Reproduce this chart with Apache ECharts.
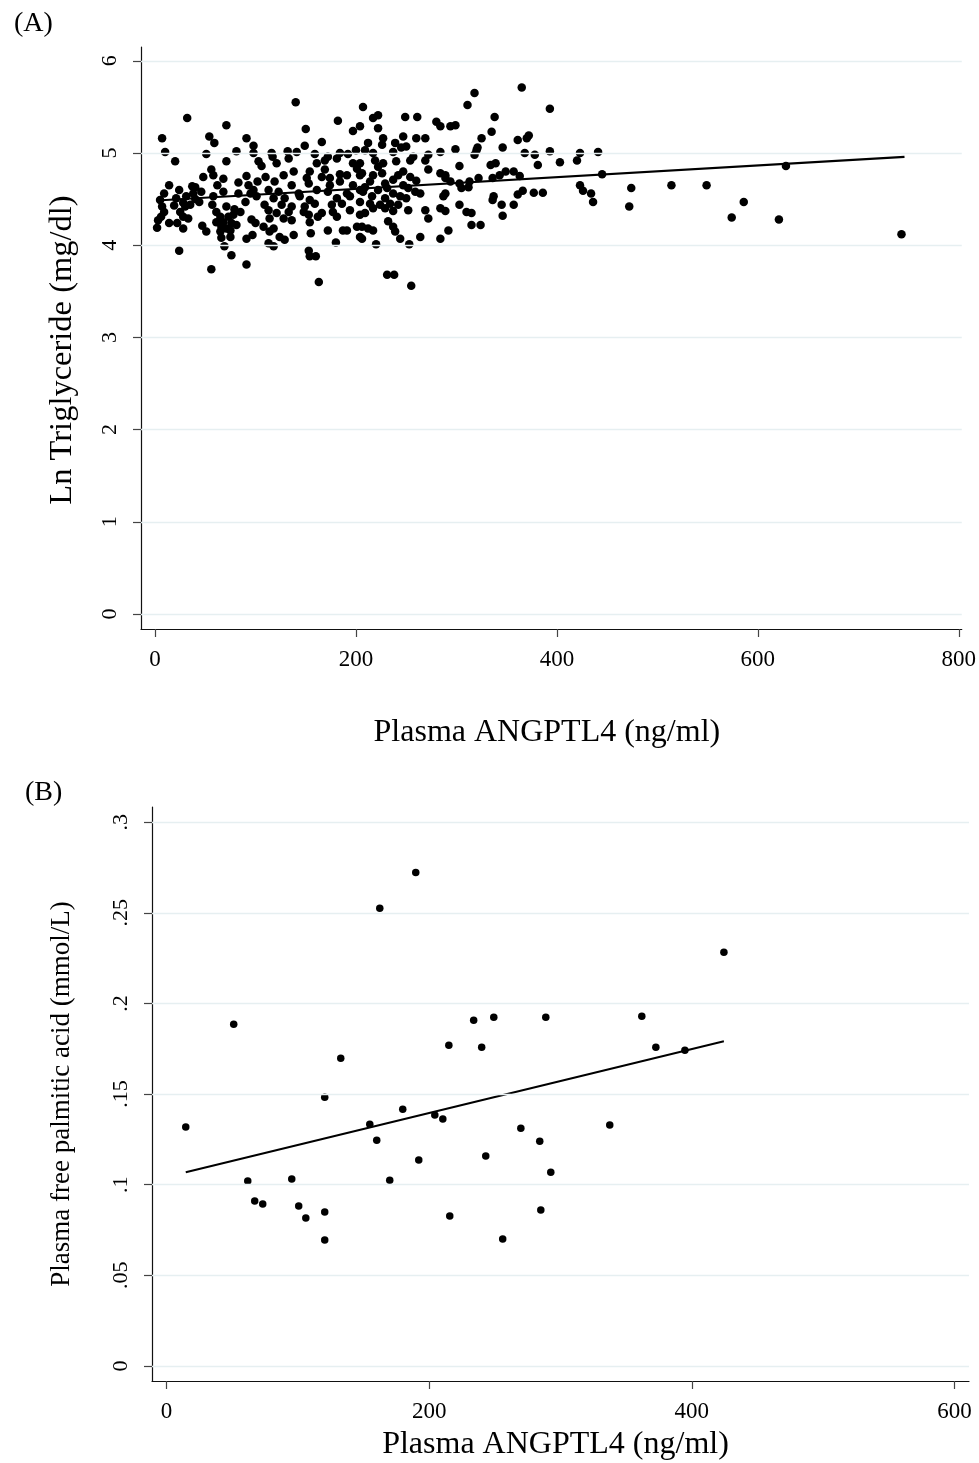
<!DOCTYPE html>
<html>
<head>
<meta charset="utf-8">
<script src="https://cdn.jsdelivr.net/npm/echarts@6/dist/echarts.min.js"></script>
<style>
  html, body { margin: 0; padding: 0; background: #fff; }
  #chart { width: 979px; height: 1463px; }
</style>
</head>
<body>
<div id="chart"></div>
<script>
// Panel A: plasma ANGPTL4 (ng/ml) vs ln triglyceride (mg/dl)
const pointsA = [
  [32,5.38],[71,5.30],[7,5.16],[54,5.18],[59,5.11],[91,5.16],[10,5.01],[51,4.99],[81,5.02],[20,4.91],
  [71,4.91],[56,4.82],[58,4.76],[48,4.74],[68,4.72],[91,4.75],[14,4.65],[83,4.68],[93,4.65],[37,4.64],
  [40,4.63],[62,4.65],[24,4.60],[9,4.56],[46,4.58],[38,4.56],[68,4.58],[83,4.56],[95,4.56],[21,4.51],
  [31,4.53],[40,4.50],[58,4.53],[5,4.49],[28,4.46],[35,4.44],[44,4.47],[90,4.47],[7,4.42],[19,4.43],
  [30,4.42],[57,4.44],[71,4.42],[79,4.39],[85,4.36],[9,4.36],[25,4.36],[61,4.36],[6,4.31],[28,4.31],
  [33,4.29],[65,4.31],[73,4.31],[78,4.33],[96,4.28],[3,4.27],[14,4.24],[22,4.24],[61,4.25],[68,4.25],
  [76,4.24],[81,4.22],[47,4.21],[66,4.20],[71,4.18],[2,4.19],[28,4.18],[51,4.15],[75,4.16],[65,4.15],
  [97,4.11],[66,4.08],[75,4.09],[91,4.07],[69,3.99],[24,3.94],[76,3.89],[56,3.74],[91,3.79],
  [140,5.55],[207,5.50],[150,5.26],[182,5.35],[197,5.24],[204,5.29],[166,5.12],[98,5.08],[98,5.00],[116,5.00],
  [132,5.02],[141,5.01],[149,5.08],[159,4.99],[172,4.96],[184,5.00],[192,4.99],[200,5.03],[209,5.03],[103,4.91],
  [117,4.96],[121,4.89],[133,4.94],[161,4.89],[169,4.92],[181,4.94],[197,4.89],[106,4.86],[138,4.80],[154,4.80],
  [169,4.82],[184,4.77],[201,4.83],[110,4.74],[128,4.76],[151,4.73],[166,4.74],[174,4.73],[191,4.76],[204,4.76],
  [102,4.69],[119,4.69],[136,4.65],[153,4.67],[174,4.65],[184,4.69],[197,4.65],[98,4.60],[113,4.60],[123,4.58],
  [143,4.56],[161,4.60],[172,4.58],[191,4.56],[204,4.60],[101,4.53],[118,4.51],[129,4.51],[144,4.53],[154,4.49],
  [181,4.51],[194,4.53],[109,4.44],[126,4.44],[136,4.42],[149,4.42],[159,4.45],[176,4.44],[186,4.45],[204,4.47],
  [113,4.38],[121,4.35],[133,4.36],[148,4.36],[166,4.35],[177,4.36],[194,4.38],[114,4.29],[128,4.29],[153,4.33],
  [162,4.31],[181,4.31],[204,4.33],[100,4.24],[108,4.20],[118,4.18],[136,4.27],[154,4.25],[172,4.16],[187,4.16],
  [191,4.16],[201,4.20],[204,4.09],[114,4.15],[124,4.09],[129,4.06],[138,4.11],[155,4.13],[113,4.02],[118,3.99],
  [180,4.03],[153,3.94],[154,3.88],[160,3.88],[163,3.60],
  [318,5.65],[311,5.52],[217,5.38],[222,5.41],[249,5.39],[261,5.39],[280,5.34],[284,5.29],[294,5.29],[299,5.30],
  [222,5.27],[227,5.16],[247,5.18],[260,5.16],[269,5.16],[212,5.11],[226,5.09],[239,5.11],[245,5.06],[250,5.07],
  [217,5.00],[237,5.01],[257,4.96],[272,4.98],[284,5.01],[299,5.04],[320,5.03],[318,4.98],[219,4.92],[227,4.89],
  [240,4.91],[254,4.92],[269,4.92],[204,4.89],[222,4.85],[303,4.86],[247,4.80],[272,4.82],[284,4.78],[289,4.76],
  [206,4.78],[217,4.76],[226,4.78],[242,4.76],[254,4.74],[260,4.70],[289,4.73],[214,4.69],[229,4.67],[237,4.71],
  [247,4.65],[294,4.69],[303,4.67],[313,4.69],[209,4.63],[222,4.60],[231,4.62],[252,4.62],[305,4.62],[312,4.63],
  [207,4.58],[237,4.56],[259,4.58],[264,4.56],[289,4.56],[287,4.53],[216,4.53],[229,4.51],[244,4.53],[250,4.51],
  [214,4.45],[224,4.44],[234,4.45],[242,4.44],[303,4.44],[217,4.40],[229,4.40],[237,4.37],[252,4.38],[269,4.38],
  [284,4.40],[289,4.37],[310,4.36],[315,4.35],[209,4.35],[272,4.29],[232,4.26],[315,4.22],[206,4.20],[212,4.18],
  [217,4.16],[237,4.20],[239,4.15],[292,4.16],[206,4.07],[244,4.07],[264,4.09],[284,4.07],[220,4.01],[253,4.01],
  [231,3.68],[238,3.68],[255,3.56],
  [365,5.71],[393,5.48],[338,5.39],[335,5.23],[325,5.16],[361,5.14],[370,5.16],[372,5.19],[321,5.06],[346,5.06],
  [368,5.00],[378,4.98],[393,5.02],[423,5.00],[441,5.01],[420,4.92],[381,4.87],[403,4.90],[334,4.87],[339,4.89],
  [349,4.80],[357,4.80],[343,4.76],[363,4.75],[322,4.73],[336,4.73],[445,4.77],[423,4.65],[426,4.59],[434,4.56],
  [366,4.59],[361,4.55],[377,4.57],[386,4.57],[337,4.53],[336,4.49],[436,4.47],[345,4.44],[357,4.44],[346,4.32],
  [324,4.22],
  [474,4.62],[472,4.42],[514,4.65],[549,4.65],[586,4.47],[574,4.30],[621,4.28],[628,4.86],[743,4.12]
];
const fitA = [[2, 4.485], [746, 4.959]];
const xTicksA = [0, 200, 400, 600, 800];
const yTicksA = [0, 1, 2, 3, 4, 5, 6];

// Panel B: plasma ANGPTL4 (ng/ml) vs plasma free palmitic acid (mmol/L)
const pointsB = [
  [14.7,0.1318],[51.2,0.1885],[61.9,0.1020],[67.2,0.0910],[73.3,0.0893],[95.4,0.1031],[100.7,0.0882],
  [106.1,0.0816],[120.5,0.1483],[120.5,0.0849],[120.5,0.0695],[132.7,0.1698],[154.8,0.1334],[160.1,0.1246],
  [162.4,0.2525],[170.0,0.1025],[179.9,0.1417],[189.8,0.2723],[192.1,0.1136],[204.3,0.1384],[210.4,0.1362],
  [215.0,0.1770],[215.7,0.0827],[233.9,0.1907],[240.0,0.1759],[243.1,0.1158],[249.2,0.1924],[256.0,0.0700],
  [269.8,0.1312],[284.2,0.1240],[285.0,0.0860],[288.8,0.1924],[292.6,0.1069],[337.5,0.1329],[361.9,0.1929],
  [372.6,0.1759],[394.7,0.1742],[424.4,0.2282]
];
const fitB = [[14.7, 0.1069], [424.4, 0.1792]];
const xTicksB = [0, 200, 400, 600];
const yTicksB = [0, 0.05, 0.1, 0.15, 0.2, 0.25, 0.3];
const yLabelsB = ['0', '.05', '.1', '.15', '.2', '.25', '.3'];

const FONT = '"Liberation Serif", "DejaVu Serif", serif';
const INK = '#000';

function yLabelB(v) {
  let best = 0;
  yTicksB.forEach((t, i) => { if (Math.abs(t - v) < Math.abs(yTicksB[best] - v)) best = i; });
  return yLabelsB[best];
}

function xAxis(gridIndex, min, max, ticks, name, nameGap, nameSize, namePad) {
  return {
    type: 'value', gridIndex, min, max,
    name, nameLocation: 'middle', nameGap,
    nameTextStyle: { fontFamily: FONT, fontSize: nameSize, color: INK, padding: namePad },
    axisLine: { show: true, onZero: false, lineStyle: { color: '#111', width: 1.2 } },
    axisTick: { show: true, customValues: ticks, length: 8, lineStyle: { color: '#444', width: 1.2 } },
    axisLabel: { customValues: ticks, margin: 19, fontFamily: FONT, fontSize: 23, color: INK },
    splitLine: { show: false }
  };
}

function yAxis(gridIndex, min, max, ticks, name, nameGap, nameSize, namePad, fmt) {
  return {
    type: 'value', gridIndex, min, max,
    name, nameLocation: 'middle', nameGap,
    nameTextStyle: { fontFamily: FONT, fontSize: nameSize, color: INK, padding: namePad },
    axisLine: { show: true, onZero: false, lineStyle: { color: '#111', width: 1.2 } },
    axisTick: { show: true, customValues: ticks, length: 8, lineStyle: { color: '#444', width: 1.2 } },
    axisLabel: { customValues: ticks, rotate: 90, margin: 20, fontFamily: FONT, fontSize: 22, color: INK,
                 formatter: fmt || (v => String(v)) },
    splitLine: { show: false }
  };
}

function gridLines(idx, ticks) {
  return {
    type: 'scatter', xAxisIndex: idx, yAxisIndex: idx, data: [], z: 1, silent: true,
    markLine: {
      silent: true, symbol: ['none', 'none'], label: { show: false },
      lineStyle: { color: '#e6eff1', width: 1.3, type: 'solid' },
      data: ticks.map(v => ({ yAxis: v }))
    }
  };
}

const chart = echarts.init(document.getElementById('chart'), null, { renderer: 'canvas' });
chart.setOption({
  backgroundColor: '#fff',
  animation: false,
  title: [
    { text: '(A)', left: 9, top: 5, textStyle: { fontFamily: FONT, fontSize: 28, fontWeight: 'normal', color: INK } },
    { text: '(B)', left: 20, top: 774, textStyle: { fontFamily: FONT, fontSize: 28, fontWeight: 'normal', color: INK } }
  ],
  grid: [
    { left: 141, top: 47, right: 17, bottom: 834 },
    { left: 152, top: 807, right: 10, bottom: 82 }
  ],
  xAxis: [
    xAxis(0, -14, 803, xTicksA, 'Plasma ANGPTL4 (ng/ml)', 88, 32, [0, 9, 0, 0]),
    xAxis(1, -11, 611, xTicksB, 'Plasma ANGPTL4 (ng/ml)', 48, 32, [0, 10, 0, 0])
  ],
  yAxis: [
    yAxis(0, -0.163, 6.15, yTicksA, 'Ln Triglyceride (mg/dl)', 62, 32.5, [0, 24, 0, 0]),
    yAxis(1, -0.0083, 0.3084, yTicksB, 'Plasma free palmitic acid (mmol/L)', 77, 27, [0, 0, 0, 0], yLabelB)
  ],
  series: [
    gridLines(0, yTicksA),
    gridLines(1, yTicksB),
    {
      type: 'scatter', xAxisIndex: 0, yAxisIndex: 0, data: pointsA, z: 3,
      symbol: 'circle', symbolSize: 8.5, itemStyle: { color: INK, opacity: 1 }
    },
    {
      type: 'line', xAxisIndex: 0, yAxisIndex: 0, data: fitA, z: 4,
      symbol: 'none', lineStyle: { color: INK, width: 2.2 }
    },
    {
      type: 'scatter', xAxisIndex: 1, yAxisIndex: 1, data: pointsB, z: 3,
      symbol: 'circle', symbolSize: 7.5, itemStyle: { color: INK, opacity: 1 }
    },
    {
      type: 'line', xAxisIndex: 1, yAxisIndex: 1, data: fitB, z: 4,
      symbol: 'none', lineStyle: { color: INK, width: 2 }
    }
  ]
});
</script>
</body>
</html>
